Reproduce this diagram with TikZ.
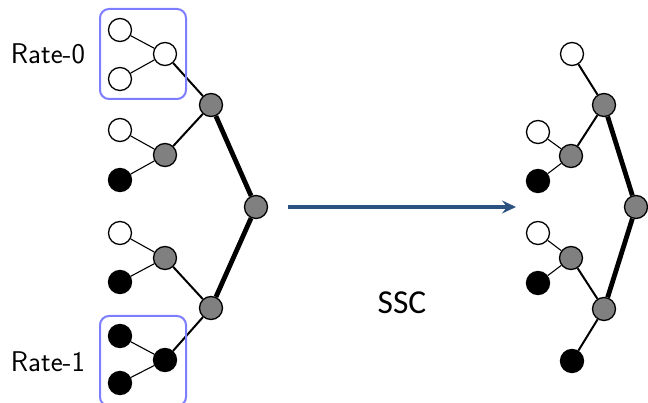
\documentclass[tikz,border=0pt]{standalone}
\usepackage{fontspec}
\newfontfamily\calfont{Carlito}
\usetikzlibrary{arrows.meta}
\definecolor{boxblue}{RGB}{125,125,255}
\definecolor{arrowblue}{RGB}{44,82,130}
\definecolor{midgray}{RGB}{128,128,128}
\begin{document}
\begin{tikzpicture}[x=1pt,y=-1pt,
  vtx/.style={circle,draw=black,line width=1.3pt,minimum size=23pt,inner sep=0pt},
  frozen/.style={vtx,fill=white},
  info/.style={vtx,fill=black},
  mixed/.style={vtx,fill=midgray},
  thinedge/.style={line width=1.1pt},
  midedge/.style={line width=2pt},
  thickedge/.style={line width=4.8pt},
  ratebox/.style={draw=boxblue,line width=2pt,rounded corners=9pt},
  lbl/.style={font=\sffamily\fontsize{28.5}{32}\selectfont,anchor=base}
]
\useasboundingbox (0,0) rectangle (648,403);

% ---------- left tree ----------
\node[frozen] (a1) at (120,30) {};
\node[frozen] (a2) at (120,79) {};
\node[frozen] (r0) at (165,54) {};
\node[frozen] (b1) at (120,130) {};
\node[info]   (b2) at (120,180) {};
\node[mixed]  (g1) at (165,155) {};
\node[mixed]  (h1) at (211,105) {};
\node[mixed]  (rt) at (256,207) {};
\node[frozen] (c1) at (120,233) {};
\node[info]   (c2) at (120,282) {};
\node[mixed]  (g2) at (165,258) {};
\node[mixed]  (h2) at (211,308) {};
\node[info]   (d1) at (120,336) {};
\node[info]   (d2) at (120,383) {};
\node[info]   (r1) at (165,360) {};

\draw[thinedge] (a1) -- (r0);
\draw[thinedge] (a2) -- (r0);
\draw[thinedge] (b1) -- (g1);
\draw[thinedge] (b2) -- (g1);
\draw[thinedge] (c1) -- (g2);
\draw[thinedge] (c2) -- (g2);
\draw[thinedge] (d1) -- (r1);
\draw[thinedge] (d2) -- (r1);
\draw[midedge] (r0) -- (h1);
\draw[midedge] (g1) -- (h1);
\draw[midedge] (g2) -- (h2);
\draw[midedge] (r1) -- (h2);
\draw[thickedge] (h1) -- (rt);
\draw[thickedge] (h2) -- (rt);

% rate-0 / rate-1 groups
\node[ratebox,minimum width=86pt,minimum height=90pt] (box0) at (143,54) {};
\node[ratebox,minimum width=86pt,minimum height=90pt] (box1) at (143,361) {};
\node[lbl] (t0) at (48,64) {Rate-0};
\node[lbl] (t1) at (48,371) {Rate-1};

% ---------- transformation ----------
\coordinate (as) at (288,207);
\coordinate (ae) at (516,207);
\draw[arrowblue,line width=3.2pt,-{Stealth[length=14pt,width=13pt,inset=5pt]}] (as) -- (ae);
\node[anchor=base,font=\calfont\fontsize{33.5}{38}\selectfont] (ssc) at (402,314) {SSC};

% ---------- right tree ----------
\node[frozen] (p0) at (572,54) {};
\node[mixed]  (q1) at (604,105) {};
\node[frozen] (u1) at (538,132) {};
\node[info]   (u2) at (538,181) {};
\node[mixed]  (k1) at (571,156) {};
\node[mixed]  (rr) at (636,207) {};
\node[frozen] (v1) at (538,233) {};
\node[info]   (v2) at (538,283) {};
\node[mixed]  (k2) at (571,258) {};
\node[mixed]  (q2) at (604,309) {};
\node[info]   (p1) at (572,361) {};

\draw[thinedge] (u1) -- (k1);
\draw[thinedge] (u2) -- (k1);
\draw[thinedge] (v1) -- (k2);
\draw[thinedge] (v2) -- (k2);
\draw[midedge] (p0) -- (q1);
\draw[midedge] (k1) -- (q1);
\draw[midedge] (k2) -- (q2);
\draw[midedge] (p1) -- (q2);
\draw[thickedge] (q1) -- (rr);
\draw[thickedge] (q2) -- (rr);
\end{tikzpicture}
\end{document}
